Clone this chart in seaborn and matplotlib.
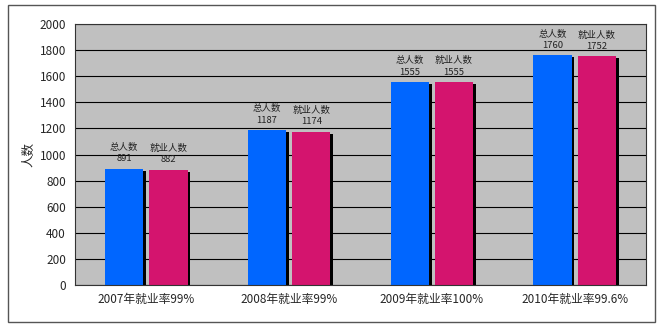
import pandas as pd
import seaborn as sns
import matplotlib.pyplot as plt
import matplotlib.patheffects as pe
from matplotlib.patches import Rectangle

years = ["2007年就业率99%", "2008年就业率99%", "2009年就业率100%", "2010年就业率99.6%"]
total = [891, 1187, 1555, 1760]
employed = [882, 1174, 1555, 1752]
series_names = ["总人数", "就业人数"]

df = pd.DataFrame({
    "year": years * 2,
    "count": total + employed,
    "series": [series_names[0]] * 4 + [series_names[1]] * 4,
})

sns.set_style("white")
plt.rcParams["font.family"] = ["Noto Sans CJK SC", "DejaVu Sans"]

fig = plt.figure(figsize=(6.63, 3.29), dpi=100)
ax = fig.add_axes([75 / 663, 44 / 329, 571 / 663, 261 / 329])
ax.set_facecolor("#c0c0c0")

sns.barplot(
    data=df, x="year", y="count", hue="series",
    palette=["#0066ff", "#d4146e"], saturation=1, width=0.62, gap=0.14,
    edgecolor="none", legend=False, ax=ax,
)

# black drop shadow on the bars
shadow = [pe.withSimplePatchShadow(offset=(2, -1.5), shadow_rgbFace="black", alpha=1.0), pe.Normal()]
for bar in ax.patches:
    bar.set_path_effects(shadow)

for container, name in zip(ax.containers, series_names):
    for bar in container:
        h = bar.get_height()
        ax.annotate(f"{name}\n{int(h)}", (bar.get_x() + bar.get_width() / 2, h),
                    xytext=(0, 4), textcoords="offset points",
                    ha="center", va="bottom", fontsize=6.8, color="#222222",
                    linespacing=1.3)

ax.set_ylim(0, 2000)
ax.set_xlim(-0.5, 3.5)
ax.set_yticks(range(0, 2001, 200))
ax.yaxis.grid(True, color="black", linewidth=0.8)
ax.set_axisbelow(True)
for s in ax.spines.values():
    s.set_color("#333333")
    s.set_linewidth(0.8)

ax.set_xlabel("")
ax.set_ylabel("人数", fontsize=9, labelpad=3)
ax.tick_params(axis="y", labelsize=8.5, length=3, color="#333333")
ax.tick_params(axis="x", labelsize=8.5, length=0, pad=6)
ax.set_xticks([0.5, 1.5, 2.5], minor=True)
ax.tick_params(axis="x", which="minor", direction="in", length=3, color="#333333")

fig.patches.append(Rectangle((8 / 663, 7 / 329), 647 / 663, 317 / 329,
                             transform=fig.transFigure, fill=False,
                             edgecolor="#555555", linewidth=1))

plt.savefig("out.png", dpi=100)
